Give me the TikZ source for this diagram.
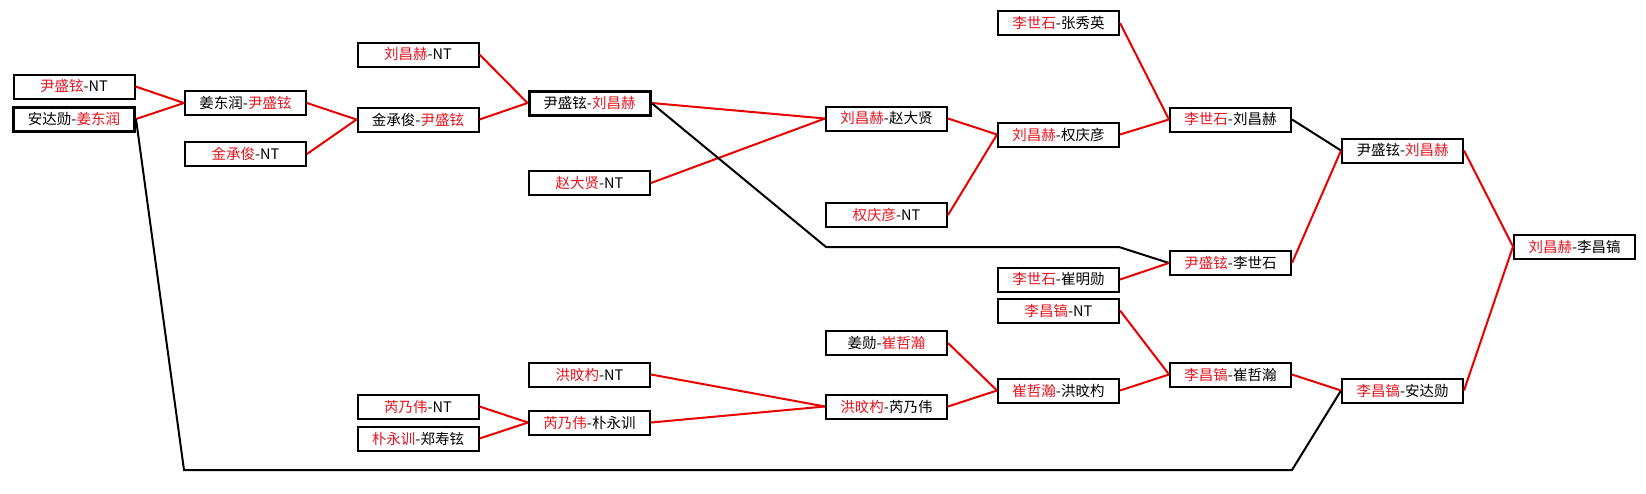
\documentclass[tikz,border=0pt]{standalone}
\usepackage{fontspec}
\setmainfont{Noto Sans CJK SC}
\definecolor{wred}{RGB}{230,20,30}
\definecolor{lred}{RGB}{235,0,0}
\newcommand{\R}[1]{\textcolor{wred}{#1}}
\tikzset{
  pbox/.style={draw=black, line width=2pt, fill=white, minimum width=121pt, minimum height=24pt, inner sep=0pt, font=\fontsize{14.5pt}{16pt}\selectfont},
  pthick/.style={line width=3pt},
  win/.style={draw=lred, line width=2pt},
  lose/.style={draw=black, line width=2pt}
}
\begin{document}
\begin{tikzpicture}[x=1pt,y=-1pt]
\useasboundingbox[fill=white] (0,0) rectangle (1646,493);
% nodes
\node[pbox] (A1) at (74,86.5) {\R{尹盛铉}-NT};
\node[pbox,pthick] (A2) at (74,119) {安达勋-\R{姜东润}};
\node[pbox] (B1) at (245.5,103) {姜东润-\R{尹盛铉}};
\node[pbox] (B2) at (245.5,154) {\R{金承俊}-NT};
\node[pbox] (C0) at (418,54.5) {\R{刘昌赫}-NT};
\node[pbox] (C1) at (418,119.5) {金承俊-\R{尹盛铉}};
\node[pbox,pthick] (D1) at (589.5,103) {尹盛铉-\R{刘昌赫}};
\node[pbox] (D2) at (589.5,183) {\R{赵大贤}-NT};
\node[pbox] (E1) at (886.5,118.5) {\R{刘昌赫}-赵大贤};
\node[pbox] (E2) at (886.5,215) {\R{权庆彦}-NT};
\node[pbox] (F0) at (1058.5,23) {\R{李世石}-张秀英};
\node[pbox] (F1) at (1058.5,134.5) {\R{刘昌赫}-权庆彦};
\node[pbox] (F2) at (1058.5,279.5) {\R{李世石}-崔明勋};
\node[pbox] (G1) at (1230.5,119.5) {\R{李世石}-刘昌赫};
\node[pbox] (G2) at (1230.5,263) {\R{尹盛铉}-李世石};
\node[pbox] (H1) at (1402.5,150.5) {尹盛铉-\R{刘昌赫}};
\node[pbox] (I) at (1574.5,246.5) {\R{刘昌赫}-李昌镐};
\node[pbox] (H2) at (1402.5,390.5) {\R{李昌镐}-安达勋};
\node[pbox] (T1) at (1230.5,374.5) {\R{李昌镐}-崔哲瀚};
\node[pbox] (S0) at (1058.5,310.5) {\R{李昌镐}-NT};
\node[pbox] (S1) at (1058.5,390.5) {\R{崔哲瀚}-洪旼杓};
\node[pbox] (R0) at (886.5,343) {姜勋-\R{崔哲瀚}};
\node[pbox] (R1) at (886.5,406.5) {\R{洪旼杓}-芮乃伟};
\node[pbox] (Q0) at (589.5,374.5) {\R{洪旼杓}-NT};
\node[pbox] (Q1) at (589.5,422.5) {\R{芮乃伟}-朴永训};
\node[pbox] (P1) at (418,406.5) {\R{芮乃伟}-NT};
\node[pbox] (P2) at (418,438.5) {\R{朴永训}-郑寿铉};
% helper coordinates
\coordinate (k1) at (826,247);
\coordinate (k2) at (1119,247);
\coordinate (k3) at (184,470);
\coordinate (k4) at (1292,470);
% connectors (drawn behind by order is fine; boxes filled white drawn first so redraw after)
\begin{scope}[on background layer/.try]
\end{scope}
\draw[win] (A1.east) -- (B1.west);
\draw[win] (A2.east) -- (B1.west);
\draw[lose] (A2.east) -- (k3) -- (k4) -- (H2.west);
\draw[win] (B1.east) -- (C1.west);
\draw[win] (B2.east) -- (C1.west);
\draw[win] (C0.east) -- (D1.west);
\draw[win] (C1.east) -- (D1.west);
\draw[win] (D1.east) -- (E1.west);
\draw[win] (D2.east) -- (E1.west);
\draw[lose] (D1.east) -- (k1) -- (k2) -- (G2.west);
\draw[win] (E1.east) -- (F1.west);
\draw[win] (E2.east) -- (F1.west);
\draw[win] (F0.east) -- (G1.west);
\draw[win] (F1.east) -- (G1.west);
\draw[lose] (G1.east) -- (H1.west);
\draw[win] (F2.east) -- (G2.west);
\draw[win] (G2.east) -- (H1.west);
\draw[win] (H1.east) -- (I.west);
\draw[win] (H2.east) -- (I.west);
\draw[win] (P1.east) -- (Q1.west);
\draw[win] (P2.east) -- (Q1.west);
\draw[win] (Q0.east) -- (R1.west);
\draw[win] (Q1.east) -- (R1.west);
\draw[win] (R0.east) -- (S1.west);
\draw[win] (R1.east) -- (S1.west);
\draw[win] (S0.east) -- (T1.west);
\draw[win] (S1.east) -- (T1.west);
\draw[win] (T1.east) -- (H2.west);
\end{tikzpicture}
\end{document}
